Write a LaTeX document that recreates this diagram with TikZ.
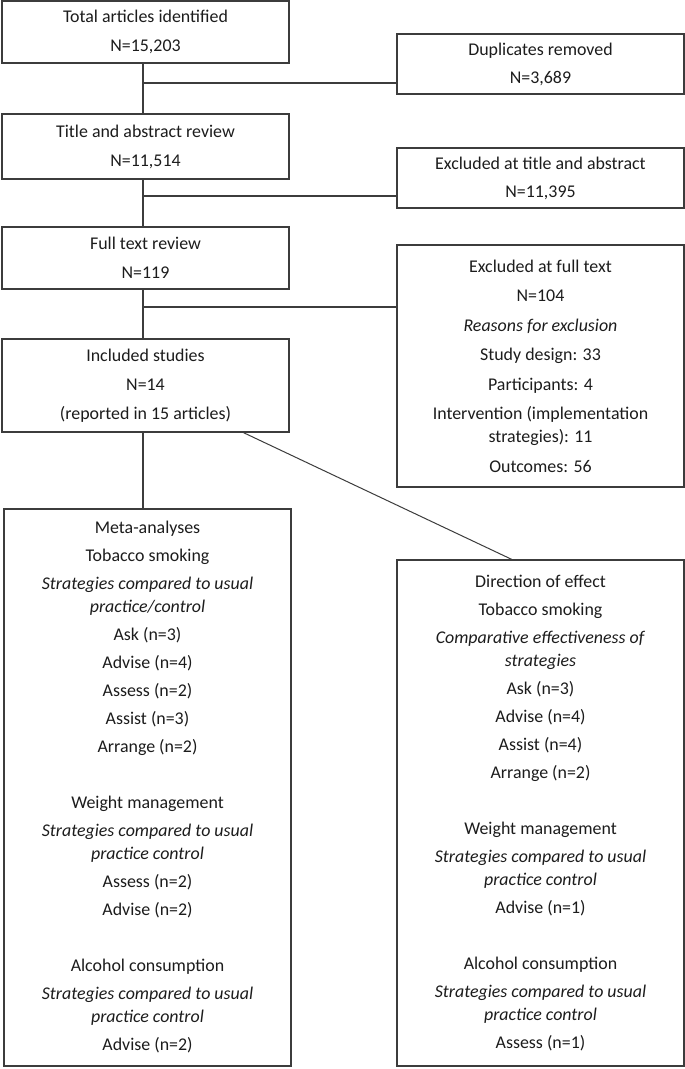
\documentclass[tikz,border=0pt]{standalone}
\usepackage{fontspec}
\setmainfont{Carlito}
\usetikzlibrary{calc}
\definecolor{ln}{HTML}{3C3C3C}
\definecolor{tx}{HTML}{1C1C1C}
\begin{document}
\begin{tikzpicture}[x=1pt,y=-1pt,
  box/.style={draw=ln, line width=1.3pt, text=tx, align=center, inner sep=0pt,
    font=\fontsize{17.9}{23}\selectfont, minimum width=287pt},
  conn/.style={draw=ln, line width=1.3pt},
  thin/.style={draw=ln, line width=1pt}]
\useasboundingbox (0,0) rectangle (685,1069);
\fill[white] (0,0) rectangle (685,1069);
% left column
\node[box, minimum height=62pt] (b1) at (145.5,32) {Total articles identified\\[6pt]N=15,203};
\node[box, minimum height=65pt] (tar) at (145.5,146.5) {Title and abstract review\\[6pt]N=11,514};
\node[box, minimum height=62pt] (ftr) at (145.5,258) {Full text review\\[6pt]N=119};
\node[box, minimum height=93pt] (inc) at (145.5,385.5) {Included studies\\[6pt]N=14\\[6pt](reported in 15 articles)};
% right column
\node[box, minimum height=60pt] (dup) at (540.5,64) {Duplicates removed\\[5pt]N=3,689};
\node[box, minimum height=60pt] (exta) at (540.5,178) {Excluded at title and abstract\\[5pt]N=11,395};
\node[box, minimum height=242pt] (exft) at (540.5,366) {Excluded at full text\\[6.5pt]N=104\\[6.5pt]\textit{Reasons for exclusion}\\[6.5pt]Study design: 33\\[6.5pt]Participants: 4\\[6.5pt]Intervention (implementation\\strategies): 11\\[6.5pt]Outcomes: 56};
% bottom boxes
\node[box, minimum height=557pt] (meta) at (147.5,787.5) {Meta-analyses\\[5pt]Tobacco smoking\\[5pt]\textit{Strategies compared to usual}\\\textit{practice/control}\\[5pt]Ask (n=3)\\[5pt]Advise (n=4)\\[5pt]Assess (n=2)\\[5pt]Assist (n=3)\\[5pt]Arrange (n=2)\\[5pt]\mbox{}\\[5pt]Weight management\\[5pt]\textit{Strategies compared to usual}\\\textit{practice control}\\[5pt]Assess (n=2)\\[5pt]Advise (n=2)\\[5pt]\mbox{}\\[5pt]Alcohol consumption\\[5pt]\textit{Strategies compared to usual}\\\textit{practice control}\\[5pt]Advise (n=2)};
\node[box, minimum height=506pt] (dir) at (540.5,813) {Direction of effect\\[5pt]Tobacco smoking\\[5pt]\textit{Comparative effectiveness of}\\\textit{strategies}\\[5pt]Ask (n=3)\\[5pt]Advise (n=4)\\[5pt]Assist (n=4)\\[5pt]Arrange (n=2)\\[5pt]\mbox{}\\[5pt]Weight management\\[5pt]\textit{Strategies compared to usual}\\\textit{practice control}\\[5pt]Advise (n=1)\\[5pt]\mbox{}\\[5pt]Alcohol consumption\\[5pt]\textit{Strategies compared to usual}\\\textit{practice control}\\[5pt]Assess (n=1)};
% junctions
\coordinate (j1) at (143,83);
\coordinate (j2) at (143,196);
\coordinate (j3) at (143,307);
% connectors
\draw[conn] (b1.south -| j1) -- (tar.north -| j1);
\draw[conn] (tar.south -| j2) -- (ftr.north -| j2);
\draw[conn] (ftr.south -| j3) -- (inc.north -| j3);
\draw[conn] (inc.south -| j3) -- (meta.north -| j3);
\draw[conn] (j1) -- (j1 -| dup.west);
\draw[conn] (j2) -- (j2 -| exta.west);
\draw[conn] (j3) -- (j3 -| exft.west);
\draw[thin] ($(inc.south west)!0.84!(inc.south east)$) -- ($(dir.north west)!0.40!(dir.north east)$);
\end{tikzpicture}
\end{document}
